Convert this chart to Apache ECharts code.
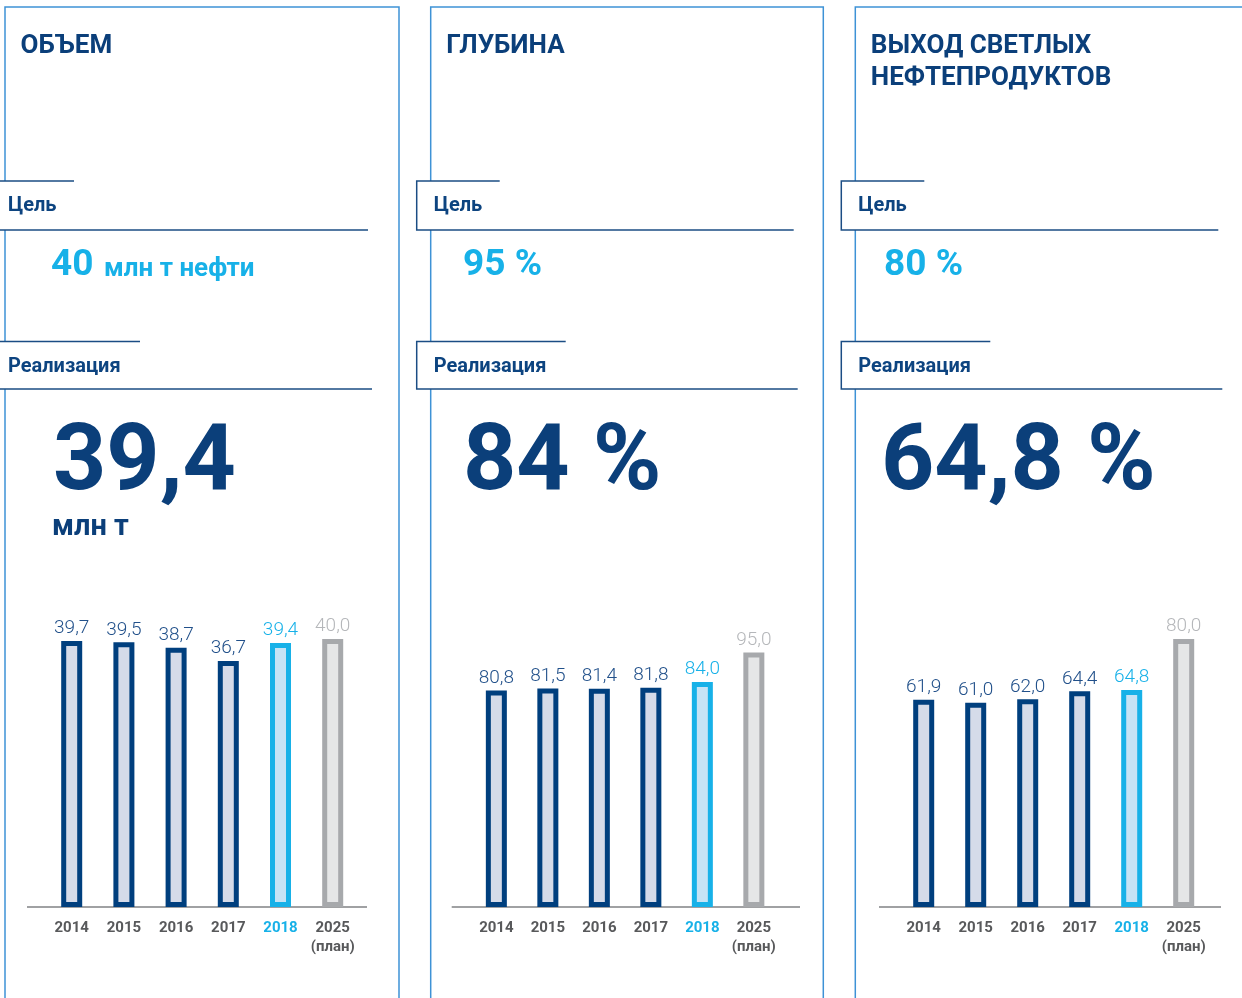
<!DOCTYPE html>
<html>
<head>
    <meta charset="UTF-8">
    <title>НПЗ показатели</title>
    <script src="https://cdn.jsdelivr.net/npm/echarts@6/dist/echarts.min.js"></script>
    <style>
        html, body { margin: 0; padding: 0; background: #fff; }
        #chart { width: 1242px; height: 998px; }
    </style>
</head>
<body>
<div id="chart"></div>
<script>
    // годы и значения
    var years = ['2014', '2015', '2016', '2017', '2018', '2025\n(план)'];
    var volume = [39.7, 39.5, 38.7, 36.7, 39.4, 40.0];      // млн т
    var depth = [80.8, 81.5, 81.4, 81.8, 84.0, 95.0];       // %
    var lightYield = [61.9, 61.0, 62.0, 64.4, 64.8, 80.0];  // %

    var titles = [['ОБЪЕМ'], ['ГЛУБИНА'], ['ВЫХОД СВЕТЛЫХ', 'НЕФТЕПРОДУКТОВ']];
    var goals = ['40', '95 %', '80 %'];
    var results = ['39,4', '84 %', '64,8 %'];

    var NAVY = '#003f7e', CYAN = '#17b1e8', GREY = '#a7a9ac';
    var FRAME = '#3e92d6', BOXLINE = '#1b4d84', FONT = 'Roboto';

    // раскладка панелей
    var panels = [
        {data: volume, max: 40, left: 45.6, step: 52.2, frame: 5, right: 399, axis: [27, 367], goalX: 51, bigX: 53},
        {data: depth, max: 100, left: 470.6, step: 51.5, frame: 430.7, right: 823.3, axis: [451.7, 800], goalX: 463, bigX: 463},
        {data: lightYield, max: 80, left: 897.7, step: 52, frame: 855.3, right: null, axis: [879, 1221], goalX: 884, bigX: 881}
    ];

    function fmt(v) { return v.toFixed(1).replace('.', ','); }

    function barItems(arr) {
        return arr.map(function (v, i) {
            var border = i < 4 ? NAVY : (i === 4 ? CYAN : GREY);
            var fill = i < 4 ? '#d5dbe9' : (i === 4 ? '#c6e3f5' : '#e5e6e7');
            var lbl = i < 4 ? '#21508a' : (i === 4 ? CYAN : '#b5b7ba');
            return {value: v, itemStyle: {color: fill, borderColor: border, borderWidth: 5}, label: {color: lbl}};
        });
    }

    var grids = [], xAxes = [], yAxes = [], series = [], graphic = [];

    panels.forEach(function (p, k) {
        grids.push({left: p.left, width: p.step * 6, top: 639, height: 268});
        xAxes.push({
            type: 'category', gridIndex: k, data: years,
            axisTick: {show: false},
            axisLine: {lineStyle: {color: '#a0a1a3', width: 2}},
            axisLabel: {
                interval: 0, margin: 12, fontFamily: FONT, fontWeight: 'bold', fontSize: 15, lineHeight: 19,
                color: function (v, i) { return i === 4 ? CYAN : '#58595b'; }
            }
        });
        yAxes.push({type: 'value', gridIndex: k, min: 0, max: p.max, show: false});
        series.push({
            type: 'bar', xAxisIndex: k, yAxisIndex: k, barWidth: 21,
            data: barItems(p.data),
            label: {
                show: true, position: 'top', distance: 3,
                fontFamily: FONT, fontWeight: 300, fontSize: 19,
                formatter: function (q) { return fmt(q.value); }
            }
        });

        // рамка панели
        var pts = [[p.frame, 998], [p.frame, 7]];
        if (p.right) { pts.push([p.right, 7], [p.right, 998]); } else { pts.push([1242, 7]); }
        graphic.push({type: 'polyline', z: 0, shape: {points: pts}, style: {stroke: FRAME, lineWidth: 1.5, fill: null}});
        // продолжение оси
        graphic.push({type: 'line', z: 0, shape: {x1: p.axis[0], y1: 907, x2: p.axis[1], y2: 907},
            style: {stroke: '#a0a1a3', lineWidth: 2}});

        var bl = p.frame - 14;
        // плашки Цель / Реализация
        [[181, 230, 83, 377, 'Цель', 206], [341.5, 389, 149, 381, 'Реализация', 367]].forEach(function (b) {
            graphic.push({type: 'rect', z: 1, shape: {x: bl, y: b[0], width: b[3], height: b[1] - b[0]}, style: {fill: '#fff'}});
            graphic.push({type: 'polyline', z: 2, shape: {points: [[bl + b[2], b[0]], [bl, b[0]], [bl, b[1]], [bl + b[3], b[1]]]},
                style: {stroke: BOXLINE, lineWidth: 1.5, fill: null}});
            graphic.push({type: 'text', z: 3, style: {text: b[4], x: bl + 17, y: b[5],
                font: 'bold 20px ' + FONT, fill: '#0d4480', verticalAlign: 'middle'}});
        });

        // заголовок
        titles[k].forEach(function (t, j) {
            graphic.push({type: 'text', z: 3, style: {text: t, x: p.frame + 15.5, y: 46 + j * 32,
                font: 'bold 26px ' + FONT, fill: '#0b3f7a', verticalAlign: 'middle'}});
        });

        // цель
        graphic.push({type: 'text', z: 3, style: {text: goals[k], x: p.goalX, y: 266,
            font: 'bold 37px ' + FONT, fill: CYAN, verticalAlign: 'middle'}});

        // факт
        graphic.push({type: 'text', z: 3, style: {text: results[k], x: p.bigX, y: 466,
            font: 'bold 93px ' + FONT, fill: '#0b3f7a', verticalAlign: 'middle'}});
    });

    graphic.push({type: 'text', z: 3, style: {text: 'млн т нефти', x: 104, y: 269,
        font: 'bold 26px ' + FONT, fill: CYAN, verticalAlign: 'middle'}});
    graphic.push({type: 'text', z: 3, style: {text: 'млн т', x: 52, y: 528,
        font: 'bold 29px ' + FONT, fill: '#0b3f7a', verticalAlign: 'middle'}});

    var myChart = echarts.init(document.getElementById('chart'));
    myChart.setOption({
        animation: false,
        grid: grids,
        xAxis: xAxes,
        yAxis: yAxes,
        series: series,
        graphic: graphic
    });
</script>
</body>
</html>
